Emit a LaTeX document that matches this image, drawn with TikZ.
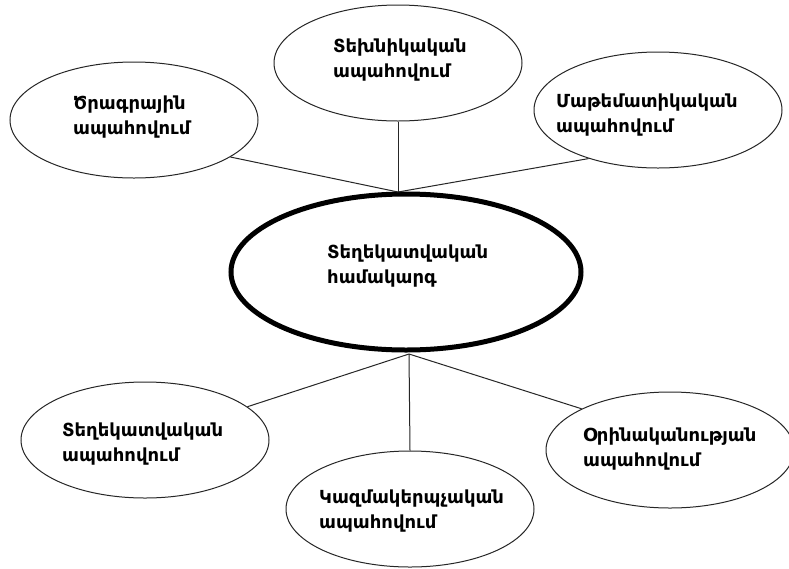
\documentclass[tikz,border=0pt]{standalone}
\usepackage{fontspec}
\setmainfont{DejaVu Sans}
\usetikzlibrary{shapes.geometric}
\begin{document}
\begin{tikzpicture}[x=1pt,y=-1pt,
  bub/.style={ellipse, draw=black!85, line width=1pt, minimum width=248pt, minimum height=116pt, inner sep=0pt},
  hub/.style={ellipse, draw=black, line width=5pt, minimum width=350pt, minimum height=156pt, inner sep=0pt},
  lbl/.style={anchor=west, align=left, font=\bfseries\fontsize{18}{24.5}\selectfont, inner sep=0pt},
  conn/.style={draw=black!85, line width=1pt}]
\path[use as bounding box, fill=white] (0,0) rectangle (789,568);
% ellipses
\node[bub] (e1) at (134,120) {};
\node[bub] (e2) at (398,63) {};
\node[bub] (e3) at (658,110) {};
\node[hub] (c)  at (406,272) {};
\node[bub] (e4) at (145,440) {};
\node[bub] (e5) at (410,509) {};
\node[bub] (e6) at (670,450) {};
% labels
\node[lbl] (t1) at (73,117) {Ծրագրային\\ապահովում};
\node[lbl] (t2) at (333,60) {Տեխնիկական\\ապահովում};
\node[lbl] (t3) at (556,115) {Մաթեմատիկական\\ապահովում};
\node[lbl] (tc) at (327,266) {Տեղեկատվական\\համակարգ};
\node[lbl] (t4) at (62,444) {Տեղեկատվական\\ապահովում};
\node[lbl] (t5) at (319,511) {Կազմակերպչական\\ապահովում};
\node[lbl] (t6) at (583,449) {Օրինականության\\ապահովում};
% junctions
\coordinate (top) at (398,192);
\coordinate (bot) at (409,354);
% connectors
\draw[conn] (e1.-21) -- (top);
\draw[conn] (e2.south) -- (top);
\draw[conn] (e3.215) -- (top);
\draw[conn] (bot) -- (e4.18);
\draw[conn] (bot) -- (e5.north);
\draw[conn] (bot) -- (e6.155);
\end{tikzpicture}
\end{document}
